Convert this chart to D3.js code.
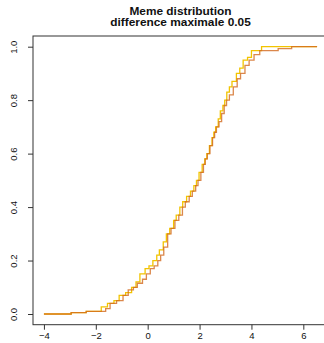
<!DOCTYPE html>
<html>
<head>
<meta charset="utf-8">
<script src="https://cdn.jsdelivr.net/npm/d3@7"></script>
<style>
  body { margin: 0; background: #fff; }
  svg { display: block; }
  text { font-family: "Liberation Sans", Arial, Helvetica, sans-serif; fill: #111; }
</style>
</head>
<body>
<div id="chart"></div>
<script>
// ecdf knots (x, cumulative share)
const yellowX = [-4, -2.95, -2.37, -1.79, -1.55, -1.3, -1.1, -0.85, -0.62, -0.45, -0.3, -0.1, 0.05, 0.2, 0.35, 0.45, 0.6, 0.72, 0.85, 1.0, 1.1, 1.24, 1.35, 1.5, 1.65, 1.78, 1.88, 1.98, 2.1, 2.2, 2.28, 2.38, 2.48, 2.55, 2.62, 2.72, 2.8, 2.9, 2.97, 3.05, 3.15, 3.25, 3.42, 3.55, 3.68, 3.85, 4.0, 4.39, 6.53];
const yellowY = [0, 0.005, 0.01, 0.027, 0.04, 0.05, 0.07, 0.08, 0.10, 0.12, 0.15, 0.17, 0.18, 0.20, 0.22, 0.24, 0.27, 0.30, 0.32, 0.35, 0.37, 0.40, 0.42, 0.44, 0.46, 0.48, 0.50, 0.53, 0.56, 0.58, 0.60, 0.63, 0.66, 0.68, 0.70, 0.73, 0.76, 0.78, 0.80, 0.83, 0.85, 0.87, 0.90, 0.92, 0.95, 0.96, 0.985, 1.0, 1.0];

const brownX = [-4, -2.95, -2.37, -1.62, -1.45, -1.2, -0.95, -0.75, -0.55, -0.4, -0.2, -0.05, 0.1, 0.25, 0.39, 0.5, 0.62, 0.77, 0.9, 1.05, 1.2, 1.34, 1.45, 1.6, 1.72, 1.85, 1.94, 2.05, 2.15, 2.22, 2.3, 2.4, 2.5, 2.58, 2.65, 2.75, 2.85, 2.95, 3.04, 3.15, 3.3, 3.45, 3.58, 3.75, 3.91, 4.1, 4.32, 5.03, 5.55, 6.53];
const brownY = [0, 0.005, 0.01, 0.02, 0.04, 0.05, 0.07, 0.09, 0.10, 0.115, 0.13, 0.15, 0.17, 0.18, 0.20, 0.22, 0.25, 0.30, 0.32, 0.35, 0.37, 0.40, 0.42, 0.44, 0.46, 0.48, 0.50, 0.53, 0.56, 0.58, 0.60, 0.63, 0.66, 0.68, 0.70, 0.72, 0.75, 0.78, 0.80, 0.82, 0.85, 0.88, 0.90, 0.93, 0.95, 0.97, 0.985, 0.993, 1.0, 1.0];

const xTicks = [-4, -2, 0, 2, 4, 6];
const yTicks = [0, 0.2, 0.4, 0.6, 0.8, 1.0];
const titleLines = ["Meme distribution", "difference maximale 0.05"];

const W = 324, H = 343;
const plot = { left: 33, right: 328, top: 36, bottom: 324.7 };

const svg = d3.select("#chart").append("svg")
    .attr("width", W)
    .attr("height", H);

// R style: pad the data range by 4% on each side
const xExt = d3.extent(yellowX.concat(brownX));
const xPad = (xExt[1] - xExt[0]) * 0.04;
const xScale = d3.scaleLinear()
    .domain([xExt[0] - xPad, xExt[1] + xPad])
    .range([plot.left, plot.right]);

const yScale = d3.scaleLinear()
    .domain([-0.04, 1.04])
    .range([plot.bottom, plot.top]);

// box
svg.append("rect")
    .attr("x", plot.left)
    .attr("y", plot.top)
    .attr("width", plot.right - plot.left)
    .attr("height", plot.bottom - plot.top)
    .attr("fill", "none")
    .attr("stroke", "#333")
    .attr("stroke-width", 1);

// axes
const xAxis = svg.append("g")
    .attr("transform", "translate(0," + plot.bottom + ")")
    .call(d3.axisBottom(xScale).tickValues(xTicks).tickSize(5).tickPadding(3)
        .tickFormat(d => d < 0 ? "\u2212" + Math.abs(d) : String(d)));
xAxis.select(".domain").remove();
xAxis.selectAll("line").attr("stroke", "#333");
xAxis.selectAll("text")
    .style("font-size", "9.5px")
    .style("font-family", "Liberation Sans, Arial, sans-serif")
    .attr("fill", "#111");

const yAxis = svg.append("g")
    .attr("transform", "translate(" + plot.left + ",0)")
    .call(d3.axisLeft(yScale).tickValues(yTicks).tickSize(5).tickFormat(d3.format(".1f")));
yAxis.select(".domain").remove();
yAxis.selectAll("line").attr("stroke", "#333");
yAxis.selectAll("text")
    .attr("x", null).attr("dy", null)
    .attr("transform", "translate(-19,0) rotate(-90)")
    .attr("text-anchor", "middle")
    .attr("dy", "0.32em")
    .style("font-size", "9.5px")
    .style("font-family", "Liberation Sans, Arial, sans-serif")
    .attr("fill", "#111");

// ecdf lines
const step = d3.line()
    .x(d => xScale(d[0]))
    .y(d => yScale(d[1]))
    .curve(d3.curveStepAfter);

svg.append("path")
    .datum(d3.zip(yellowX, yellowY))
    .attr("d", step)
    .attr("fill", "none")
    .attr("stroke", "#F2C400")
    .attr("stroke-width", 1.3);

svg.append("path")
    .datum(d3.zip(brownX, brownY))
    .attr("d", step)
    .attr("fill", "none")
    .attr("stroke", "#D2691E")
    .attr("stroke-opacity", 0.8)
    .attr("stroke-width", 1.3);

// title
svg.selectAll(".title")
    .data(titleLines)
    .enter().append("text")
    .attr("class", "title")
    .attr("transform", (d, i) => "translate(" + (plot.left + plot.right) / 2 + "," + (14.5 + i * 11.5) + ") scale(1.08,1)")
    .attr("text-anchor", "middle")
    .style("font-size", "11px")
    .style("font-weight", "bold")
    .text(d => d);
</script>
</body>
</html>
